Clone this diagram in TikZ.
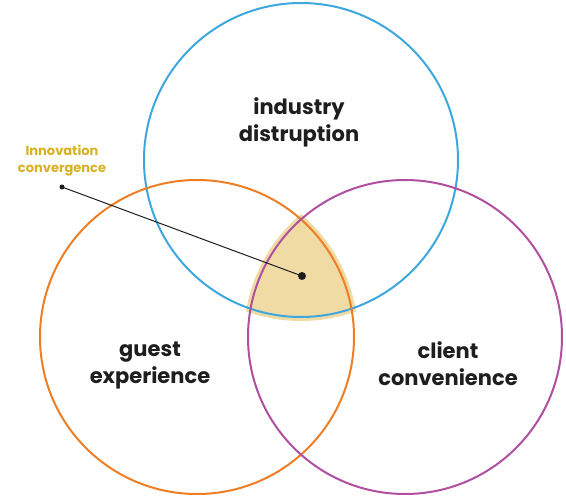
\documentclass[tikz,border=0pt]{standalone}
\usepackage{fontspec}
\setmainfont{Poppins}[UprightFont=* Bold, BoldFont=* Bold]
\definecolor{cblue}{HTML}{3DA7DE}
\definecolor{corange}{HTML}{EE7D23}
\definecolor{cpurple}{HTML}{B04F9F}
\definecolor{ctan}{HTML}{F0DBA5}
\definecolor{cgold}{HTML}{D8B122}
\definecolor{cdark}{HTML}{1E1E1E}
\begin{document}
\begin{tikzpicture}[x=1pt,y=-1pt,
  ring/.style={line width=2pt},
  lbl/.style={align=center,text=cdark,font=\fontsize{21}{27}\selectfont},
  note/.style={align=center,text=cgold,font=\fontsize{13}{17}\selectfont},
  dotc/.style={circle,fill=cdark,inner sep=0pt}]
\useasboundingbox (0,0) rectangle (566,500);
\coordinate (cb) at (301,160);
\coordinate (co) at (197,337);
\coordinate (cp) at (405,337);
\begin{scope}
  \clip (cb) circle (161);
  \clip (co) circle (161);
  \fill[ctan] (cp) circle (161);
\end{scope}
\draw[ring,cblue] (cb) circle (157);
\draw[ring,corange] (co) circle (157);
\draw[ring,cpurple] (cp) circle (157);
\node[lbl] (ind) at (299,122) {industry\\distruption};
\node[lbl] (gue) at (150,366) {guest\\experience};
\node[lbl] (cli) at (448,364) {client\\convenience};
\node[note] (inn) at (62,161) {Innovation\\convergence};
\node[dotc,minimum size=8pt] (cen) at (302,276) {};
\node[dotc,minimum size=5pt] (src) at (62,187) {};
\draw[cdark,line width=1pt] (src.center) -- (cen.center);
\end{tikzpicture}
\end{document}
